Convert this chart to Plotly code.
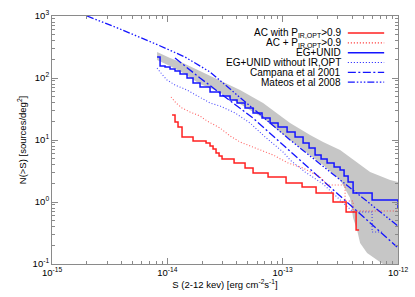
import plotly.graph_objects as go

# Flux values in units of 1e-14 erg cm^-2 s^-1, N(>S) in sources/deg^2
UNIT = 1e-14

# AC with P_IR,OPT > 0.9 (step)
ac_s = [1.099, 1.166, 1.238, 1.341, 1.671, 2.166, 2.346, 2.491, 2.645, 2.809, 2.981,
        3.789, 4.720, 5.537, 7.471, 10.70, 14.73, 19.49, 27.36, 35.48, 43.32, 45.99]
ac_n = [25.3, 19.5, 16.2, 11.2, 9.64, 8.95, 8.00, 7.16, 6.17, 5.52, 4.94,
        4.26, 3.53, 2.94, 2.53, 2.03, 1.75, 1.40, 1.00, 0.69, 0.353, 0.353]

# AC + P_IR,OPT > 0.9
acp_s = [1.077, 1.190, 1.341, 1.574, 1.921, 2.21, 2.865, 3.499, 4.27, 5.215, 6.368,
         8.255, 11.14, 15.03, 21.11, 24.28, 34.77, 34.77, 40.80, 40.80, 100.0]
acp_n = [49.4, 39.5, 32.8, 28.3, 24.4, 20.3, 15.6, 11.6, 9.29, 8.00, 6.90,
         5.73, 4.26, 3.53, 2.53, 1.88, 1.88, 1.04, 1.04, 0.716, 0.716]

# EG+UNID (step)
eg_s = [0.815, 0.865, 0.955, 1.055, 1.166, 1.289, 1.482, 1.671, 1.921, 2.346, 2.865,
        3.499, 4.023, 4.720, 5.537, 6.627, 7.776, 9.123, 10.92, 12.81, 15.03, 16.94,
        19.10, 21.53, 24.28, 27.91, 31.47, 34.08, 36.92, 40.80, 59.63, 100.0]
eg_n = [218, 156, 150, 140, 130, 116, 100, 83.0, 71.6, 59.4, 51.3,
        44.2, 39.5, 32.8, 27.3, 22.6, 18.8, 16.2, 13.5, 11.2, 8.95, 7.43,
        5.73, 4.94, 4.26, 3.67, 3.28, 2.63, 2.10, 1.40, 1.08, 0.80]

# EG+UNID without IR,OPT
egn_s = [0.815, 0.865, 0.994, 1.166, 1.482, 1.921, 2.346, 2.865, 3.866, 5.215, 7.037,
         10.08, 11.59, 15.64, 22.41, 31.47, 40.80, 59.63, 59.63, 74.28]
egn_n = [145, 125, 92.9, 77.1, 64.0, 49.4, 39.5, 35.3, 27.3, 18.8, 11.2,
         6.40, 4.76, 3.05, 1.95, 1.08, 0.69, 0.69, 0.328, 0.328]

# Uncertainty band (grey)
band_up_s = [0.815, 1.055, 1.368, 1.921, 2.698, 4.27, 6.761, 11.59, 17.28, 22.41,
             31.47, 44.19, 57.28, 85.42, 100.0]
band_up_n = [262, 210, 175, 130, 96.3, 64.0, 39.5, 18.8, 12.0, 9.29,
             6.90, 4.26, 3.05, 2.26, 2.10]
band_lo_s = [0.815, 1.055, 1.368, 1.921, 2.698, 4.27, 6.761, 11.59, 22.41, 31.47,
             38.43, 40.80, 44.19, 46.92, 53.95, 65.88, 80.43, 100.0]
band_lo_n = [195, 156, 120, 80.0, 61.7, 38.1, 22.6, 10.0, 3.95, 2.26,
             1.16, 0.552, 0.353, 0.218, 0.150, 0.116, 0.09, 0.09]

# Campana et al 2001
camp_s = [1.166, 1.921, 5.537, 11.59, 98.2]
camp_n = [210, 100, 22.6, 6.65, 0.188]

# Mateos et al 2008
mat_s = [0.2012, 0.389, 0.831, 1.424, 2.346, 5.215, 11.59, 100.0]
mat_n = [1000, 617, 341, 218, 125, 35.3, 10.0, 0.41]

x_tickvals = [1e-15, 1e-14, 1e-13, 1e-12]
x_ticktext = ["10<sup>-15</sup>", "10<sup>-14</sup>", "10<sup>-13</sup>", "10<sup>-12</sup>"]
y_tickvals = [0.1, 1, 10, 100, 1000]
y_ticktext = ["10<sup>-1</sup>", "10<sup>0</sup>", "10<sup>1</sup>", "10<sup>2</sup>", "10<sup>3</sup>"]

RED = "#ff2020"
BLUE = "#1414ff"
GREY = "#c6c6c6"
AXC = "#8a8a8a"
MATEOS_DASH = "7px,2px,1.5px,2px,1.5px,2px,1.5px,2px"
CAMP_DASH = "8px,2.5px,2px,2.5px"
DOTS = "1px,2px"


def sc(v):
    return [a * UNIT for a in v]


fig = go.Figure()

fig.add_trace(go.Scatter(
    x=sc(band_up_s) + sc(band_lo_s)[::-1],
    y=band_up_n + band_lo_n[::-1],
    fill="toself", fillcolor=GREY, line=dict(width=0), mode="lines",
    hoverinfo="skip", showlegend=False))

fig.add_trace(go.Scatter(x=sc(mat_s), y=mat_n, mode="lines",
                         line=dict(color=BLUE, width=1.3, dash=MATEOS_DASH), showlegend=False))
fig.add_trace(go.Scatter(x=sc(camp_s), y=camp_n, mode="lines",
                         line=dict(color=BLUE, width=1.3, dash=CAMP_DASH), showlegend=False))
fig.add_trace(go.Scatter(x=sc(egn_s), y=egn_n, mode="lines",
                         line=dict(color=BLUE, width=1.1, dash=DOTS), opacity=0.75, showlegend=False))
fig.add_trace(go.Scatter(x=sc(acp_s), y=acp_n, mode="lines",
                         line=dict(color=RED, width=1.1, dash=DOTS), opacity=0.7, showlegend=False))
fig.add_trace(go.Scatter(x=sc(eg_s), y=eg_n, mode="lines",
                         line=dict(color=BLUE, width=1.5, shape="hv"), showlegend=False))
fig.add_trace(go.Scatter(x=sc(ac_s), y=ac_n, mode="lines",
                         line=dict(color=RED, width=1.5, shape="hv"), showlegend=False))

# Manual legend (text on left, line sample on right)
legend_items = [
    ("AC with P<sub>IR,OPT</sub>&gt;0.9", RED, "solid", 1.5),
    ("AC + P<sub>IR,OPT</sub>&gt;0.9", RED, DOTS, 1.1),
    ("EG+UNID", BLUE, "solid", 1.5),
    ("EG+UNID without IR,OPT", BLUE, DOTS, 1.1),
    ("Campana et al 2001", BLUE, CAMP_DASH, 1.3),
    ("Mateos et al 2008", BLUE, MATEOS_DASH, 1.3),
]
y0 = 0.931
dy = 0.0395
for i, (txt, col, dash, w) in enumerate(legend_items):
    yy = y0 - i * dy
    fig.add_annotation(x=0.84, y=yy, xref="paper", yref="paper", text=txt,
                       showarrow=False, xanchor="right", yanchor="middle",
                       font=dict(size=10, color="#000000"))
    fig.add_shape(type="line", xref="paper", yref="paper", x0=0.855, x1=0.96,
                  y0=yy, y1=yy, line=dict(color=col, width=w, dash=dash))

minor_x = [k * 10.0 ** e for e in range(-15, -12) for k in range(2, 10)]
minor_y = [k * 10.0 ** e for e in range(-1, 3) for k in range(2, 10)]

axis_common = dict(
    showgrid=False, zeroline=False, showline=True, linecolor=AXC, linewidth=1,
    ticks="inside", ticklen=6, tickcolor=AXC, mirror="allticks", automargin=False,
    tickfont=dict(size=9.5, color="#000000"),
)

fig.update_xaxes(type="log", range=[-15, -12], tickvals=x_tickvals, ticktext=x_ticktext,
                 minor=dict(tickvals=minor_x, ticks="inside", ticklen=3, tickcolor=AXC),
                 title=dict(text="S (2-12 kev) [erg cm<sup>-2</sup>s<sup>-1</sup>]",
                            font=dict(size=9.5, color="#000000"), standoff=2),
                 **axis_common)
fig.update_yaxes(type="log", range=[-1, 3], tickvals=y_tickvals, ticktext=y_ticktext,
                 minor=dict(tickvals=minor_y, ticks="inside", ticklen=3, tickcolor=AXC),
                 title=dict(text="N(&gt;S) [sources/deg<sup>2</sup>]",
                            font=dict(size=9.5, color="#000000"), standoff=4),
                 **axis_common)

fig.update_layout(
    width=415, height=297,
    margin=dict(l=52, r=17, t=16, b=33, autoexpand=False),
    paper_bgcolor="white", plot_bgcolor="white",
    font=dict(family="Liberation Sans, Arial, Helvetica, sans-serif", size=9.5, color="#000000"),
    showlegend=False,
)

fig.write_html("out.html", config={"displayModeBar": False},
               post_script="document.body.style.margin='0px';document.body.style.padding='0px';")
